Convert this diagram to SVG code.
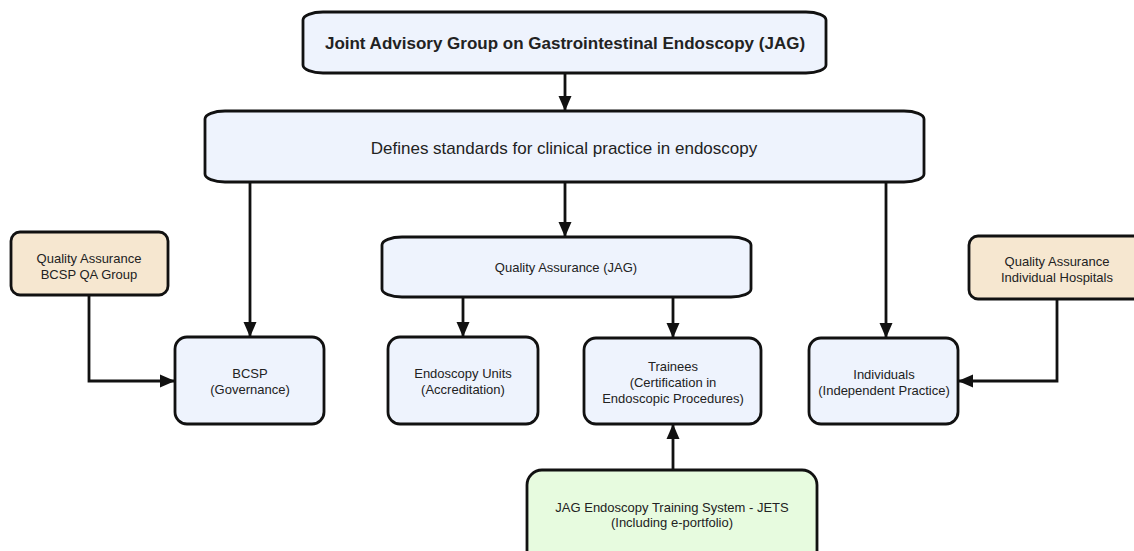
<svg xmlns="http://www.w3.org/2000/svg" width="1134" height="551" viewBox="0 0 1134 551">
<style>
  .box { fill: #eef3fd; stroke: #111; stroke-width: 2.8; }
  .tan { fill: #f6e7d0; stroke: #111; stroke-width: 2.8; }
  .green { fill: #e7fbdf; stroke: #111; stroke-width: 2.8; }
  .t { font-family: "Liberation Sans", Arial, sans-serif; font-size: 13px; fill: #222; text-anchor: middle; dominant-baseline: central; }
  .big { font-size: 17px; }
  .bold { font-weight: bold; }
  .conn { fill: none; stroke: #111; stroke-width: 2.8; marker-end: url(#arr); }
</style>
<defs>
  <marker id="arr" markerUnits="userSpaceOnUse" markerWidth="16" markerHeight="16" viewBox="0 0 16 16" refX="15" refY="8" orient="auto">
    <path d="M0,1.5 L15,8 L0,14.5 Z" fill="#111"/>
  </marker>
</defs>
<rect width="1134" height="551" fill="#ffffff"/>

<g id="connectors">
  <path class="conn" d="M565,73 V111"/>
  <path class="conn" d="M250,182 V337"/>
  <path class="conn" d="M565,182 V237"/>
  <path class="conn" d="M886,182 V338"/>
  <path class="conn" d="M463,297 V337"/>
  <path class="conn" d="M673,297 V338"/>
  <path class="conn" d="M673,470 V424"/>
  <path class="conn" d="M89,295 V381 H175"/>
  <path class="conn" d="M1057,299 V381 H958"/>
</g>

<g id="jag">
  <path class="box" d="M323,12 H806 A20 8 0 0 1 826,20 V65 A20 8 0 0 1 806,73 H323 A20 8 0 0 1 303,65 V20 A20 8 0 0 1 323,12 Z"/>
  <text class="t big bold" x="565" y="43">Joint Advisory Group on Gastrointestinal Endoscopy (JAG)</text>
</g>

<g id="defines">
  <path class="box" d="M225,111 H904 A20 8 0 0 1 924,119 V174 A20 8 0 0 1 904,182 H225 A20 8 0 0 1 205,174 V119 A20 8 0 0 1 225,111 Z"/>
  <text class="t big" x="564" y="148">Defines standards for clinical practice in endoscopy</text>
</g>

<g id="qa-jag">
  <path class="box" d="M402,237 H731 A20 8 0 0 1 751,245 V289 A20 8 0 0 1 731,297 H402 A20 8 0 0 1 382,289 V245 A20 8 0 0 1 402,237 Z"/>
  <text class="t" x="566" y="267">Quality Assurance (JAG)</text>
</g>

<g id="qa-bcsp">
  <rect class="tan" x="11" y="232" width="157" height="63" rx="9"/>
  <text class="t" x="89" y="258">Quality Assurance</text>
  <text class="t" x="89" y="274">BCSP QA Group</text>
</g>

<g id="qa-hospitals">
  <rect class="tan" x="969" y="236" width="180" height="63" rx="9"/>
  <text class="t" x="1057" y="261">Quality Assurance</text>
  <text class="t" x="1057" y="277">Individual Hospitals</text>
</g>

<g id="bcsp">
  <rect class="box" x="175" y="337" width="149" height="87" rx="12"/>
  <text class="t" x="250" y="373">BCSP</text>
  <text class="t" x="250" y="389">(Governance)</text>
</g>

<g id="units">
  <rect class="box" x="388" y="337" width="150" height="87" rx="12"/>
  <text class="t" x="463" y="373">Endoscopy Units</text>
  <text class="t" x="463" y="389">(Accreditation)</text>
</g>

<g id="trainees">
  <rect class="box" x="584" y="338" width="177" height="86" rx="12"/>
  <text class="t" x="673" y="366">Trainees</text>
  <text class="t" x="673" y="382">(Certification in</text>
  <text class="t" x="673" y="398">Endoscopic Procedures)</text>
</g>

<g id="individuals">
  <rect class="box" x="809" y="338" width="149" height="86" rx="12"/>
  <text class="t" x="884" y="374">Individuals</text>
  <text class="t" x="884" y="390">(Independent Practice)</text>
</g>

<g id="jets">
  <rect class="green" x="527" y="470" width="290" height="100" rx="15"/>
  <text class="t" x="672" y="507">JAG Endoscopy Training System - JETS</text>
  <text class="t" x="672" y="522">(Including e-portfolio)</text>
</g>
</svg>
